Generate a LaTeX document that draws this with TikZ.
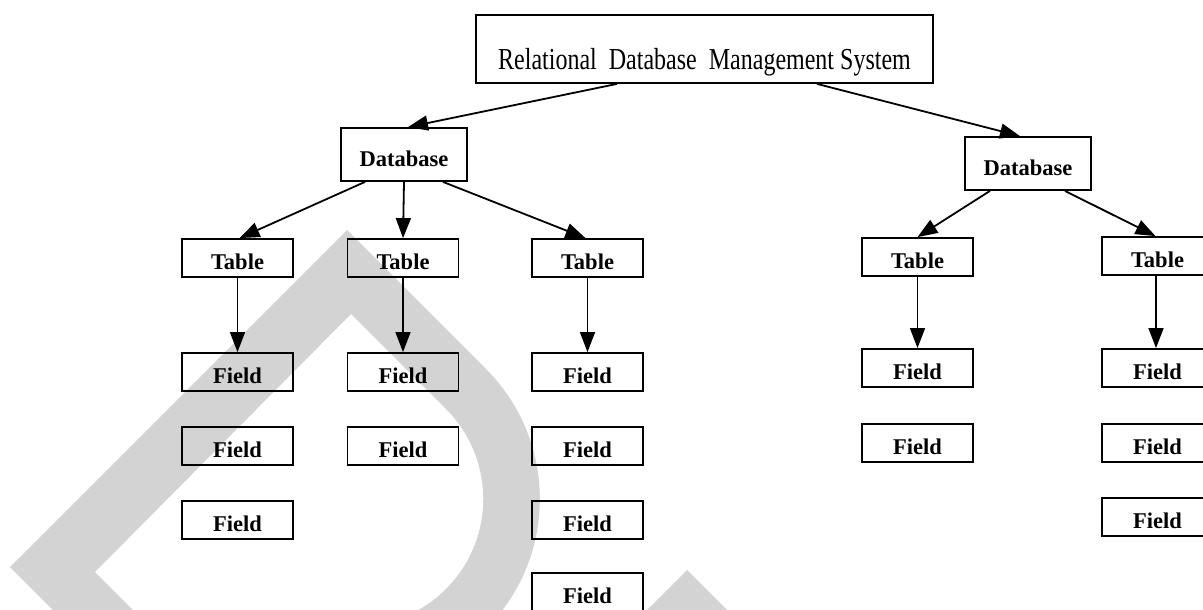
\documentclass[tikz,border=0pt]{standalone}
\usepackage{fontspec}
\usepackage{graphicx}
\setmainfont{Liberation Serif}
\usetikzlibrary{arrows.meta}
\definecolor{wmgray}{RGB}{211,211,211}
\begin{document}
\begin{tikzpicture}[x=1pt,y=-1pt,
  boxbase/.style={draw, line width=1.8pt, inner sep=0pt},
  smallbox/.style={boxbase, minimum width=111pt, minimum height=38pt,
    text height=30pt, text depth=8pt, font=\fontsize{22.5}{27}\selectfont\bfseries},
  dbbox/.style={boxbase, minimum width=126pt, minimum height=53pt,
    text height=38pt, text depth=15pt, font=\fontsize{22.5}{27}\selectfont\bfseries},
  topbox/.style={boxbase, minimum width=457pt, minimum height=68pt,
    text height=55pt, text depth=13pt, font=\fontsize{24}{28}\selectfont},
  arr/.style={-{Triangle[length=20pt,width=15pt]}, line width=1.8pt},
  varr/.style={-{Triangle[length=20pt,width=15pt]}, line width=1.4pt}]
\useasboundingbox (0,0) rectangle (1203,610);

% light grey background lettering
\begin{scope}
  \clip (0,0) rectangle (1203,610);
  \fill[wmgray] (60,617) -- (10,567) -- (347,230) -- (486,369)
    arc[start angle=-45, end angle=45, radius=183.8] -- (399.5,618.6)
    arc[start angle=70, end angle=-45, radius=127.3] -- (351,314)
    -- (95,572) -- (140,617) -- cycle;
  \fill[wmgray] (687,570) -- (747,630) -- (627,630) -- cycle;
\end{scope}

% top level
\node[topbox] (rdbms) at (704.5,49)
  {\scalebox{1}[1.27]{Relational\ \ Database\ \ Management System}};

% databases
\node[dbbox] (dbL) at (404,154.5) {Database};
\node[dbbox] (dbR) at (1028,163.5) {Database};

% tables
\node[smallbox] (tL1) at (237.5,258) {Table};
\node[smallbox] (tL2) at (403,258) {Table};
\node[smallbox] (tL3) at (587.5,258) {Table};
\node[smallbox] (tR1) at (917.5,257) {Table};
\node[smallbox] (tR2) at (1157.5,256) {Table};

% fields, first table
\node[smallbox] (f1a) at (237.5,372) {Field};
\node[smallbox] (f1b) at (237.5,446) {Field};
\node[smallbox] (f1c) at (237.5,520) {Field};
% fields, second table
\node[smallbox] (f2a) at (403,372) {Field};
\node[smallbox] (f2b) at (403,446) {Field};
% fields, third table
\node[smallbox] (f3a) at (587.5,372) {Field};
\node[smallbox] (f3b) at (587.5,446) {Field};
\node[smallbox] (f3c) at (587.5,520) {Field};
\node[smallbox] (f3d) at (587.5,592) {Field};
% fields, fourth table
\node[smallbox] (f4a) at (917.5,368) {Field};
\node[smallbox] (f4b) at (917.5,443) {Field};
% fields, fifth table
\node[smallbox] (f5a) at (1157.5,368) {Field};
\node[smallbox] (f5b) at (1157.5,443) {Field};
\node[smallbox] (f5c) at (1157.5,517) {Field};

% connectors
\draw[arr] ([xshift=-87.5pt]rdbms.south) -- ([xshift=4pt]dbL.north);
\draw[arr] ([xshift=112.5pt]rdbms.south) -- ([xshift=-8pt]dbR.north);

\draw[arr] ([xshift=-39pt]dbL.south) -- ([xshift=2pt]tL1.north);
\draw[arr] (dbL.south) -- (tL2.north);
\draw[arr] ([xshift=39pt]dbL.south) -- ([xshift=-2pt]tL3.north);
\draw[arr] ([xshift=-38pt]dbR.south) -- (tR1.north);
\draw[arr] ([xshift=37pt]dbR.south) -- ([xshift=-2pt]tR2.north);

\draw[varr] (tL1.south) -- (f1a.north);
\draw[varr] (tL2.south) -- (f2a.north);
\draw[varr] (tL3.south) -- (f3a.north);
\draw[varr] (tR1.south) -- (f4a.north);
\draw[varr] ([xshift=-1.5pt]tR2.south) -- ([xshift=-1.5pt]f5a.north);
\end{tikzpicture}
\end{document}
